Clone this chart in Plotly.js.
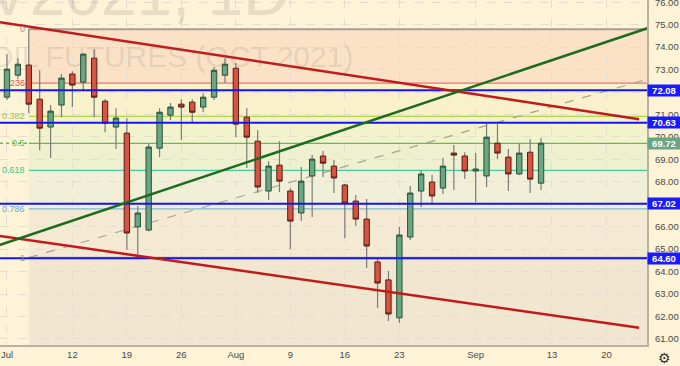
<!DOCTYPE html>
<html>
<head>
<meta charset="utf-8">
<script src="https://cdn.plot.ly/plotly-3.0.1.min.js"></script>
<style>html,body{margin:0;padding:0;background:#fdf3d6;}#chart{width:680px;height:366px;}</style>
</head>
<body>
<div id="chart"></div>
<script>
// ---- data ----
const dates = ['2021-07-01','2021-07-02','2021-07-06','2021-07-07','2021-07-08','2021-07-09','2021-07-12','2021-07-13','2021-07-14','2021-07-15','2021-07-16','2021-07-19','2021-07-20','2021-07-21','2021-07-22','2021-07-23','2021-07-26','2021-07-27','2021-07-28','2021-07-29','2021-07-30','2021-08-02','2021-08-03','2021-08-04','2021-08-05','2021-08-06','2021-08-09','2021-08-10','2021-08-11','2021-08-12','2021-08-13','2021-08-16','2021-08-17','2021-08-18','2021-08-19','2021-08-20','2021-08-23','2021-08-24','2021-08-25','2021-08-26','2021-08-27','2021-08-30','2021-08-31','2021-09-01','2021-09-02','2021-09-03','2021-09-07','2021-09-08','2021-09-09','2021-09-10'];
const open  = [71.77,72.75,73.20,71.68,70.44,71.42,72.80,72.44,73.51,71.59,70.44,70.17,65.99,65.85,69.50,70.97,71.46,71.55,71.33,71.77,72.75,73.06,70.88,69.81,67.59,68.74,67.59,66.61,68.26,69.15,68.70,67.86,67.14,66.34,64.43,63.63,61.94,65.54,67.59,67.99,67.72,69.28,69.15,68.48,68.26,69.72,69.10,68.35,69.32,67.94];
const high  = [73.69,73.51,74.80,72.97,71.42,72.80,72.93,73.72,73.91,71.68,71.28,70.84,66.92,69.72,71.28,71.51,71.68,71.68,71.95,73.11,73.51,73.29,71.28,70.30,68.92,69.81,67.72,68.66,69.19,69.37,68.97,67.90,67.41,67.23,64.61,64.03,65.99,67.81,68.52,68.30,69.06,69.64,69.32,69.28,70.61,70.57,69.46,69.72,69.90,69.95];
const low   = [71.64,72.57,71.06,69.41,69.06,70.88,71.33,72.04,70.88,70.21,69.46,64.96,64.60,65.80,69.10,70.75,69.86,70.66,71.10,71.64,72.40,69.99,68.61,67.50,67.19,67.54,65.01,66.25,66.43,68.21,67.50,65.50,66.03,64.16,62.38,61.80,61.71,65.41,66.88,67.01,67.46,67.63,68.12,67.10,67.77,69.01,67.59,68.30,67.50,67.63];
const close = [73.02,73.24,71.46,70.39,71.15,72.62,72.31,73.69,71.77,70.61,70.84,65.72,66.61,69.55,71.10,71.33,71.33,71.10,71.77,72.97,73.24,70.57,69.99,67.77,68.70,68.03,66.25,68.03,69.01,68.83,68.17,67.05,66.34,65.14,63.49,62.11,65.63,67.50,68.35,67.37,68.70,69.19,68.48,68.57,69.99,69.28,68.35,69.28,68.12,69.72];

const holidays = ['2021-07-05','2021-09-06'];
const tickDates  = ['2021-07-01','2021-07-12','2021-07-19','2021-07-26','2021-08-02','2021-08-09','2021-08-16','2021-08-23','2021-09-01','2021-09-13','2021-09-20'];
const tickLabels = ['Jul','12','19','26','Aug','9','16','23','Sep','13','20'];
const priceTicks = [61,62,63,64,65,66,67,68,69,70,71,72,73,74,75,76];
const priceTickLabels = ['61.00','62.00','63.00','64.00','65.00','66.00','','68.00','69.00','70.00','71.00','','73.00','74.00','75.00','76.00'];

// Fibonacci retracement (start date, high, low, levels)
const fibStart = '2021-07-06';
const fibHigh = 74.80, fibLow = 64.62;
const fibLevels = [0, 0.236, 0.382, 0.5, 0.618, 0.786, 1, 1.618];
const fibLabels = ['0','236','0.382','0.5','0.618','0.786','1',''];

// horizontal levels
const blueLevels = [72.08, 70.63, 67.02, 64.60];
const lastPrice = 69.72;

// trend lines: [date0, price0, date1, price1]
const redUpper  = ['2021-06-30', 75.14, '2021-09-23', 70.79];
const redLower  = ['2021-06-30', 65.61, '2021-09-23', 61.50];
const greenLine = ['2021-06-30', 65.13, '2021-09-27', 75.37];
const fibTrend  = ['2021-07-06', 64.62, '2021-09-27', 73.03];

// ---- styling ----
const FONT = 'Liberation Sans, Arial, sans-serif';
const BG = '#fdf3d6';
const fibLineColors = ['#a39f96','#ef7070','#b3d447','#5cbf5c','#45cf9c','#76bcdc','#a39f96','#a39f96'];
const fibFillColors = ['#fbe2c6','#f8f1cb','#f2f2cb','#eff0d0','#f1efd7','#f4ead3','#f1e7d1'];
const fibTextColors = ['#9a968c','#e05555','#9cc63a','#58b858','#36c791','#5aaed6','#9a968c',''];

const fibPrice = l => fibHigh - l * (fibHigh - fibLow);

// bodies (candlestick without wicks) + wicks as thin bars
const bodyHi = open.map((o, i) => Math.max(o, close[i]));
const bodyLo = open.map((o, i) => Math.min(o, close[i]));
const wickLen = high.map((h, i) => h - low[i]);

const traces = [
  {
    type: 'bar', x: dates, base: low, y: wickLen,
    width: 0.11 * 86400000,
    marker: {color: '#7a7a7c', line: {width: 0}},
    hoverinfo: 'skip', showlegend: false
  },
  {
    type: 'candlestick', x: dates, open: open, high: bodyHi, low: bodyLo, close: close,
    increasing: {fillcolor: '#6ba583', line: {color: '#225437', width: 1}},
    decreasing: {fillcolor: '#d75442', line: {color: '#5b1a13', width: 1}},
    whiskerwidth: 0, hoverinfo: 'skip', showlegend: false
  }
];

const shapes = [];
// fib fills
for (let i = 0; i < fibLevels.length - 1; i++) {
  shapes.push({type: 'rect', layer: 'below', xref: 'x', yref: 'y',
    x0: fibStart, x1: '2021-12-31', y0: fibPrice(fibLevels[i]), y1: fibPrice(fibLevels[i + 1]),
    fillcolor: fibFillColors[i], line: {width: 0}});
}
// fib lines
for (let i = 0; i < fibLevels.length - 1; i++) {
  shapes.push({type: 'line', layer: 'between', xref: 'x', yref: 'y',
    x0: fibStart, x1: '2021-12-31', y0: fibPrice(fibLevels[i]), y1: fibPrice(fibLevels[i]),
    line: {color: fibLineColors[i], width: (i === 0 || i === 6) ? 2 : 1.2}});
}
// dashed fib trend line
shapes.push({type: 'line', layer: 'between', xref: 'x', yref: 'y',
  x0: fibTrend[0], y0: fibTrend[1], x1: fibTrend[2], y1: fibTrend[3],
  line: {color: '#a8a297', width: 1.2, dash: 'dash'}});
// last price dotted line
shapes.push({type: 'line', layer: 'between', xref: 'paper', yref: 'y',
  x0: 0, x1: 1, y0: lastPrice, y1: lastPrice,
  line: {color: '#5cbf5c', width: 1.5, dash: 'dot'}});
// blue horizontal lines
blueLevels.forEach(v => shapes.push({type: 'line', layer: 'above', xref: 'paper', yref: 'y',
  x0: 0, x1: 1, y0: v, y1: v, line: {color: '#1414f5', width: 2}}));
// trend lines
[[redUpper, '#c21a1a'], [redLower, '#c21a1a'], [greenLine, '#1d6b1d']].forEach(([t, c]) =>
  shapes.push({type: 'line', layer: 'above', xref: 'x', yref: 'y',
    x0: t[0], y0: t[1], x1: t[2], y1: t[3], line: {color: c, width: 2.5}}));

const annotations = [];
// watermark
annotations.push({xref: 'paper', yref: 'paper', x: 0.452, y: 1.02, xanchor: 'right', yanchor: 'middle',
  text: 'CLV2021, 1D', showarrow: false, font: {family: FONT, size: 64, color: 'rgba(120,115,105,0.17)'}});
annotations.push({xref: 'paper', yref: 'paper', x: 0.5487, y: 0.835, xanchor: 'right', yanchor: 'middle',
  text: 'CRUDE OIL FUTURES (OCT 2021)', showarrow: false, font: {family: FONT, size: 30, color: 'rgba(120,115,105,0.17)'}});
// fib labels
fibLevels.forEach((l, i) => {
  if (!fibLabels[i]) return;
  annotations.push({xref: 'x', yref: 'y', x: fibStart, y: fibPrice(l), xanchor: 'right', yanchor: 'middle',
    xshift: -2, text: fibLabels[i], showarrow: false, font: {family: FONT, size: 9, color: fibTextColors[i]}});
});
// price boxes on the right axis
blueLevels.forEach(v => annotations.push({xref: 'paper', yref: 'y', x: 1, y: v, xanchor: 'left', yanchor: 'middle',
  xshift: 0, text: '<b>' + v.toFixed(2) + '</b>', showarrow: false, bgcolor: '#1a1aff', width: 32, height: 11, borderpad: 0,
  font: {family: FONT, size: 9.5, color: '#ffffff'}}));
annotations.push({xref: 'paper', yref: 'y', x: 1, y: lastPrice, xanchor: 'left', yanchor: 'middle',
  text: '<b>' + lastPrice.toFixed(2) + '</b>', showarrow: false, bgcolor: '#6ba583', width: 32, height: 11, borderpad: 0,
  font: {family: FONT, size: 9.5, color: '#ffffff'}});
// settings icon
annotations.push({xref: 'paper', yref: 'paper', x: 1, y: 0, xanchor: 'left', yanchor: 'top', xshift: 9, yshift: -3,
  text: '\u2699', showarrow: false, font: {family: 'DejaVu Sans', size: 14, color: '#333333'}});

const layout = {
  width: 680, height: 366,
  margin: {l: 0, r: 33, t: 0, b: 21, pad: 0},
  paper_bgcolor: BG, plot_bgcolor: BG,
  showlegend: false,
  xaxis: {
    type: 'date',
    range: ['2021-06-30 08:38', '2021-09-23 17:17'],
    rangebreaks: [{bounds: ['sat', 'mon']}, {values: holidays}],
    rangeslider: {visible: false},
    tickmode: 'array', tickvals: tickDates, ticktext: tickLabels,
    showgrid: true, gridcolor: '#e4ddd0', griddash: 'dash', gridwidth: 1,
    showline: true, linecolor: '#b9b2a3', linewidth: 2,
    ticks: '', tickfont: {family: FONT, size: 9.5, color: '#4a4a4a'},
    zeroline: false, fixedrange: true
  },
  yaxis: {
    side: 'right',
    range: [60.73, 76.1],
    tickmode: 'array', tickvals: priceTicks, ticktext: priceTickLabels,
    showgrid: true, gridcolor: '#e4ddd0', griddash: 'dash', gridwidth: 1,
    showline: true, linecolor: '#b9b2a3', linewidth: 2,
    ticks: '', ticklabelstandoff: 4, ticklabeloverflow: 'allow',
    tickfont: {family: FONT, size: 9.5, color: '#4a4a4a'},
    zeroline: false, fixedrange: true
  },
  shapes: shapes,
  annotations: annotations
};

Plotly.newPlot('chart', traces, layout, {displayModeBar: false, staticPlot: true});
</script>
</body>
</html>
